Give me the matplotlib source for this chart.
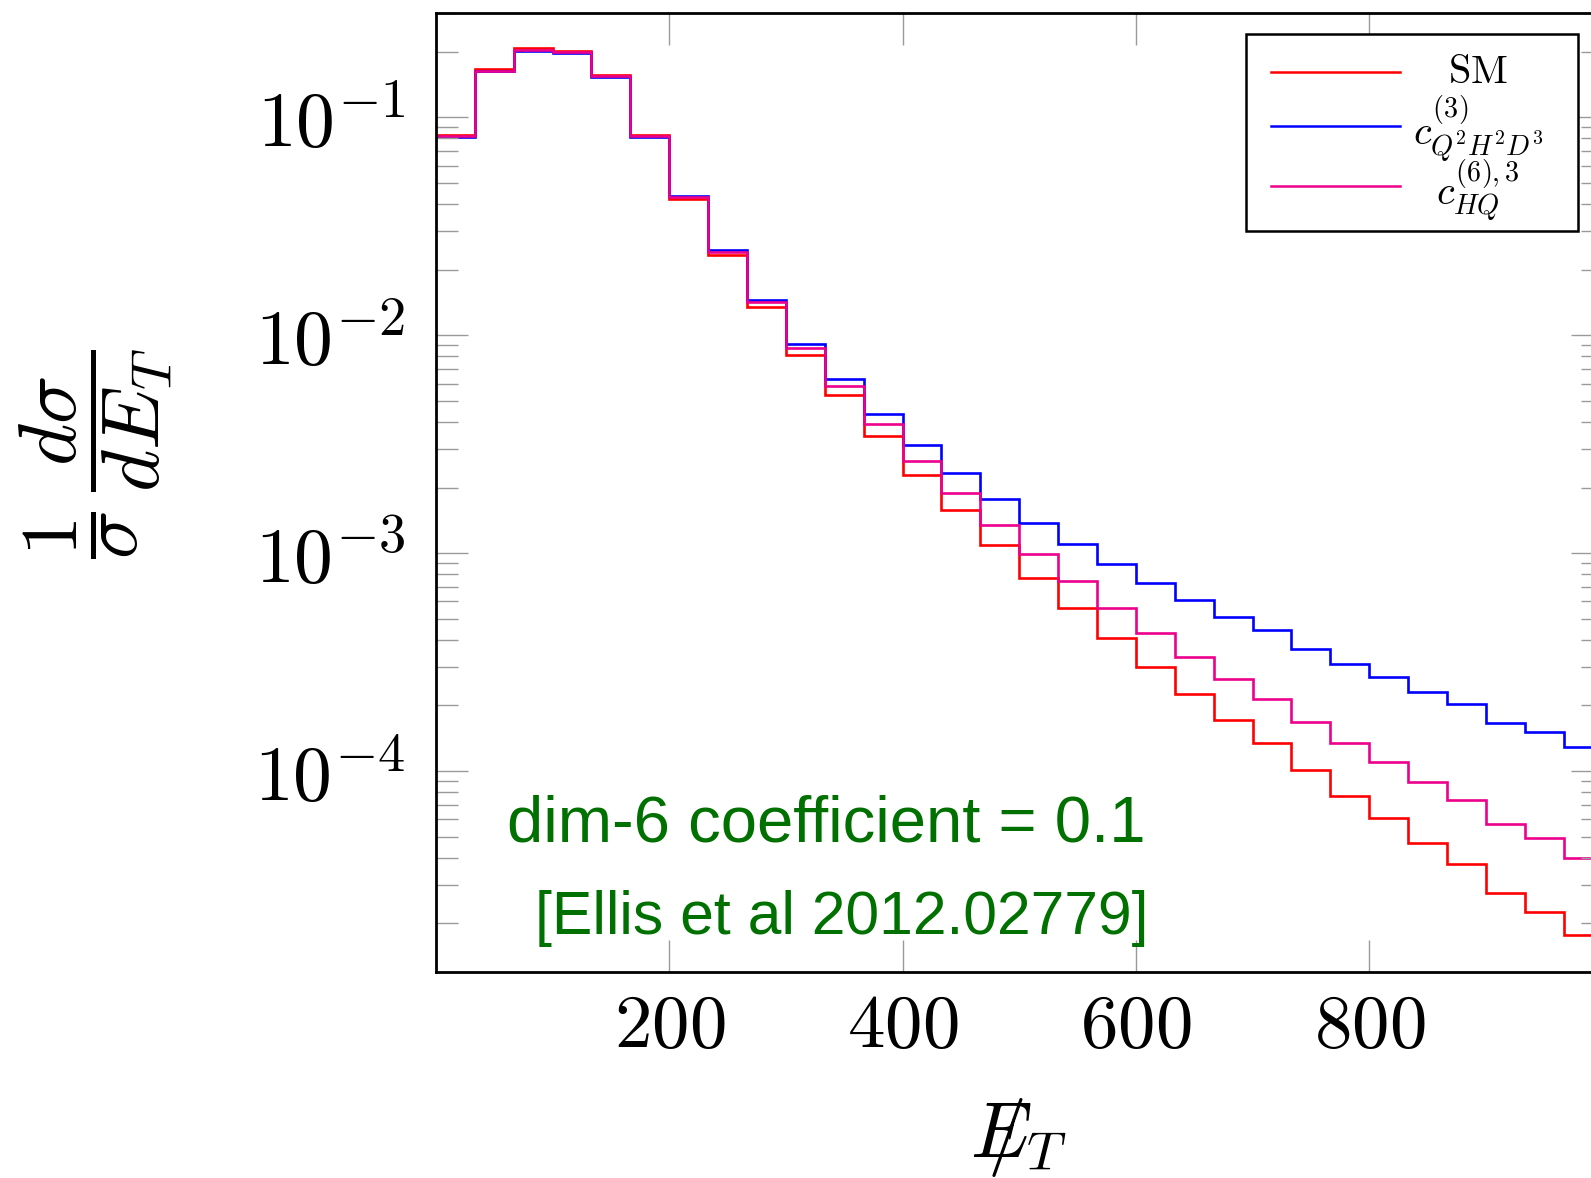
import numpy as np
import matplotlib
matplotlib.use("Agg")
import matplotlib.pyplot as plt
from matplotlib.patches import Rectangle
from matplotlib.ticker import FixedLocator, LogLocator, FuncFormatter, NullLocator

plt.rcParams['mathtext.fontset'] = 'cm'

# 30 bins of missing E_T, 0 - 1000 GeV
bin_edges = np.linspace(0, 1000, 31)
x_ticks = [200, 400, 600, 800]

sm = [0.0831, 0.1661, 0.2072, 0.2009, 0.1570, 0.0827, 0.0421, 0.02335, 0.01348, 0.00812,
      0.00529, 0.00344, 0.002275, 0.00157, 0.001085, 0.00077, 0.000561, 0.000407, 0.000299, 0.0002255,
      0.000171, 0.0001341, 0.0001009, 7.69e-5, 6.09e-5, 4.67e-5, 3.73e-5, 2.75e-5, 2.255e-5, 1.763e-5]

c_q2h2d3 = [0.0810, 0.1626, 0.2023, 0.1977, 0.1537, 0.0814, 0.04364, 0.02455, 0.01458, 0.00916,
            0.0063, 0.004364, 0.00315, 0.002335, 0.001769, 0.001368, 0.001103, 0.000888, 0.000727, 0.000609,
            0.000509, 0.000443, 0.000365, 0.000309, 0.000271, 0.0002304, 0.0002023, 0.0001661, 0.0001505, 0.0001289]

c_hq = [0.0818, 0.1634, 0.2040, 0.1988, 0.1553, 0.0818, 0.04318, 0.02403, 0.01422, 0.00878,
        0.00584, 0.003898, 0.002659, 0.001879, 0.00134, 0.000986, 0.000742, 0.000558, 0.000428, 0.000334,
        0.000265, 0.0002144, 0.0001673, 0.000134, 0.0001098, 8.87e-5, 7.36e-5, 5.69e-5, 4.91e-5, 4.0e-5]

labels = [r'$\mathrm{SM}$', r'$c^{(3)}_{Q^2H^2D^3}$', r'$c^{(6),3}_{HQ}$']
colors = ['#ff0000', '#0000ff', '#ec008c']

fig = plt.figure(figsize=(15.91, 11.78), dpi=100)
# axes runs a little past the right edge of the picture, as in the original
ax = fig.add_axes([0.2740, 0.1751, 0.7333, 0.8136])

for vals, col in zip([sm, c_q2h2d3, c_hq], colors):
    ax.stairs(vals, bin_edges, baseline=None, color=col, lw=1.9)

ax.set_yscale('log')
ax.set_xlim(0, 1000)
ax.set_ylim(1.2e-5, 0.3)

ax.xaxis.set_major_locator(FixedLocator(x_ticks))
ax.xaxis.set_minor_locator(NullLocator())
ax.yaxis.set_major_locator(LogLocator(base=10))
ax.yaxis.set_minor_locator(LogLocator(base=10, subs=np.arange(2, 10)))
ax.xaxis.set_major_formatter(FuncFormatter(lambda v, p: r'$%d$' % v))
ax.yaxis.set_major_formatter(FuncFormatter(lambda v, p: r'$10^{%d}$' % round(np.log10(v))))

ax.tick_params(which='both', direction='in', top=True, right=True, color='#9a9a9a', width=1.0)
ax.tick_params(which='major', length=23)
ax.tick_params(which='minor', length=16)
ax.tick_params(axis='x', pad=13, labelsize=54)
ax.tick_params(axis='y', pad=22, labelsize=56)

for sp in ax.spines.values():
    sp.set_linewidth(2.0)

ax.set_xlabel(r'$/\!\!\!\!\!E_T$', fontsize=56, labelpad=24)
fig.text(0.060, 0.615, r'$\dfrac{1}{\sigma}\,\dfrac{d\sigma}{dE_T}$', rotation=90,
         fontsize=58, ha='center', va='center')

# legend box drawn by hand so that labels sit centred like the pgfplots one
ax.add_patch(Rectangle((0.6943, 0.7732), 0.2849, 0.2052, transform=ax.transAxes,
                       facecolor='white', edgecolor='black', lw=1.8, zorder=5))
legend_y = [0.9384, 0.8824, 0.8198]
text_y = [0.9384, 0.8790, 0.8140]
for lab, col, yy, ty in zip(labels, colors, legend_y, text_y):
    ax.plot([0.7158, 0.8261], [yy, yy], transform=ax.transAxes, color=col, lw=1.8, zorder=6)
    ax.text(0.8932, ty, lab, transform=ax.transAxes, fontsize=29, ha='center', va='center', zorder=6)

ax.text(0.0609, 0.1364, 'dim-6 coefficient = 0.1', transform=ax.transAxes, color='#007000',
        fontsize=47, family='Liberation Sans', va='baseline')
ax.text(0.0845, 0.0393, '[Ellis et al 2012.02779]', transform=ax.transAxes, color='#007000',
        fontsize=43.7, family='Liberation Sans', va='baseline')

fig.savefig('out.png', dpi=100)
